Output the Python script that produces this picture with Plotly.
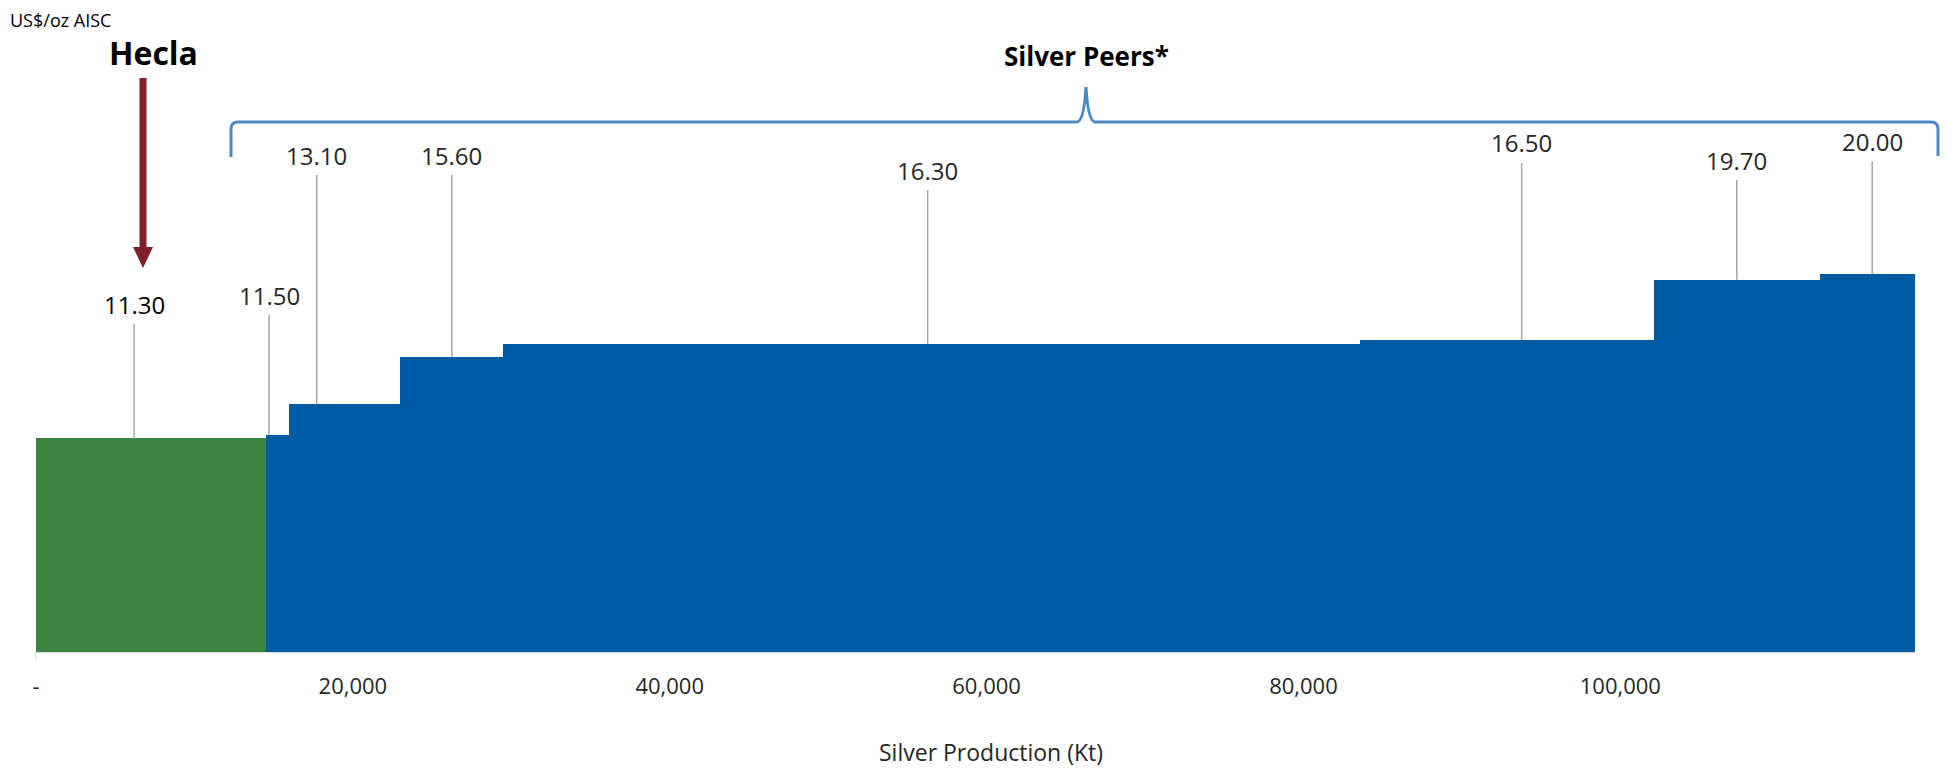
import plotly.graph_objects as go

# ---------------- data ----------------
companies = ["Hecla", "Peer 1", "Peer 2", "Peer 3", "Peer 4", "Peer 5", "Peer 6", "Peer 7"]
aisc = [11.30, 11.50, 13.10, 15.60, 16.30, 16.50, 19.70, 20.00]          # US$/oz AISC
production = [14500, 1500, 7000, 6500, 54100, 18500, 10500, 6000]        # Silver production (Kt)
tick_values = [0, 20000, 40000, 60000, 80000, 100000]
tick_labels = ["-", "20,000", "40,000", "60,000", "80,000", "100,000"]

# ---------------- styling / layout ----------------
OFF = 8                      # default page body margin
W, H = 1948 - 2 * OFF, 768 - OFF
LEFT, RIGHT, TOP, BASE = 36, 1915, 20, 652   # plot area in page pixels
ML, MR, MT, MB = LEFT - OFF, (W + OFF) - RIGHT, TOP - OFF, (H + OFF) - BASE
PW, PH = W - ML - MR, H - MT - MB
PX_PER_UNIT = 18.9
YMAX = PH / PX_PER_UNIT

GREEN = "#3B833F"
BLUE = "#005BA5"
BRACE = "#4A89C4"
ARROW = "#7F2126"
LEADER = "#A6A6A6"
FONT = "Open Sans"

# label placement (page pixel row of label centre) and leader position inside each bar
label_y_px = [304, 295, 155, 155, 170, 143, 160, 141.5]
leader_frac = [0.427, 0.14, 0.245, 0.5, 0.495, 0.55, 0.5, 0.55]


def xp(p):
    return (p - LEFT) / PW


def yp(p):
    return (BASE - p) / PH


# cumulative positions
starts = []
acc = 0
for w in production:
    starts.append(acc)
    acc += w
total = acc
centers = [s + w / 2 for s, w in zip(starts, production)]
colors = [GREEN] + [BLUE] * (len(production) - 1)

fig = go.Figure()
fig.add_trace(go.Bar(
    x=centers, y=aisc, width=production, base=0,
    marker=dict(color=colors, line=dict(width=0)),
    hoverinfo="skip", showlegend=False,
))

annotations = []
for i, (s, w, v) in enumerate(zip(starts, production, aisc)):
    bar_top_px = BASE - v * PX_PER_UNIT
    annotations.append(dict(
        x=s + w * leader_frac[i], y=v, xref="x", yref="y",
        text=f"{v:.2f}", showarrow=True, arrowhead=0, arrowwidth=1.5,
        arrowcolor=LEADER, ax=0, ay=label_y_px[i] - bar_top_px,
        standoff=0, startstandoff=2,
        font=dict(family=FONT, size=24, color="#000000" if i == 0 else "#262626"),
    ))


def txt(x, y, text, size, color="#000000"):
    return dict(x=xp(x), y=yp(y), xref="paper", yref="paper", text=text,
                xanchor="center", yanchor="middle", showarrow=False,
                font=dict(family=FONT, size=size, color=color))


annotations += [
    txt(60, 20, "US$/oz AISC", 18),
    txt(153, 52, "<b>Hecla</b>", 32),
    txt(1086, 56, "<b>Silver Peers*</b>", 26),
    txt(991, 752, "Silver Production (Kt)", 23, "#262626"),
]


def P(x, y):
    return f"{xp(x)},{yp(y)}"


brace_path = (
    f"M {P(231,157)} L {P(231,129)} Q {P(231,122)} {P(238,122)} "
    f"L {P(1077,122)} Q {P(1084,121)} {P(1086,87)} Q {P(1088,121)} {P(1095,122)} "
    f"L {P(1931,122)} Q {P(1938,122)} {P(1938,129)} L {P(1938,156)}"
)
head_path = f"M {P(133,247)} L {P(153,247)} L {P(143,268)} Z"

shapes = [
    dict(type="path", xref="paper", yref="paper", path=brace_path,
         line=dict(color=BRACE, width=3)),
    dict(type="rect", xref="paper", yref="paper",
         x0=xp(139.5), x1=xp(146.5), y0=yp(78), y1=yp(248),
         fillcolor=ARROW, line=dict(width=0)),
    dict(type="path", xref="paper", yref="paper", path=head_path,
         fillcolor=ARROW, line=dict(width=0)),
    dict(type="line", xref="paper", yref="paper",
         x0=xp(36), x1=xp(36), y0=yp(652), y1=yp(660),
         line=dict(color="#D9D9D9", width=1)),
]

fig.update_layout(
    width=W, height=H,
    margin=dict(l=ML, r=MR, t=MT, b=MB, pad=0),
    paper_bgcolor="white", plot_bgcolor="white",
    annotations=annotations, shapes=shapes,
    bargap=0,
    xaxis=dict(
        range=[0, total], tickvals=tick_values, ticktext=tick_labels,
        showgrid=False, zeroline=False, showline=True, linecolor="#D9D9D9", linewidth=1,
        ticks="", ticklabelstandoff=15,
        tickfont=dict(family=FONT, size=22, color="#262626"),
    ),
    yaxis=dict(range=[0, YMAX], visible=False, showgrid=False, zeroline=False),
)

fig.write_html("out.html")
